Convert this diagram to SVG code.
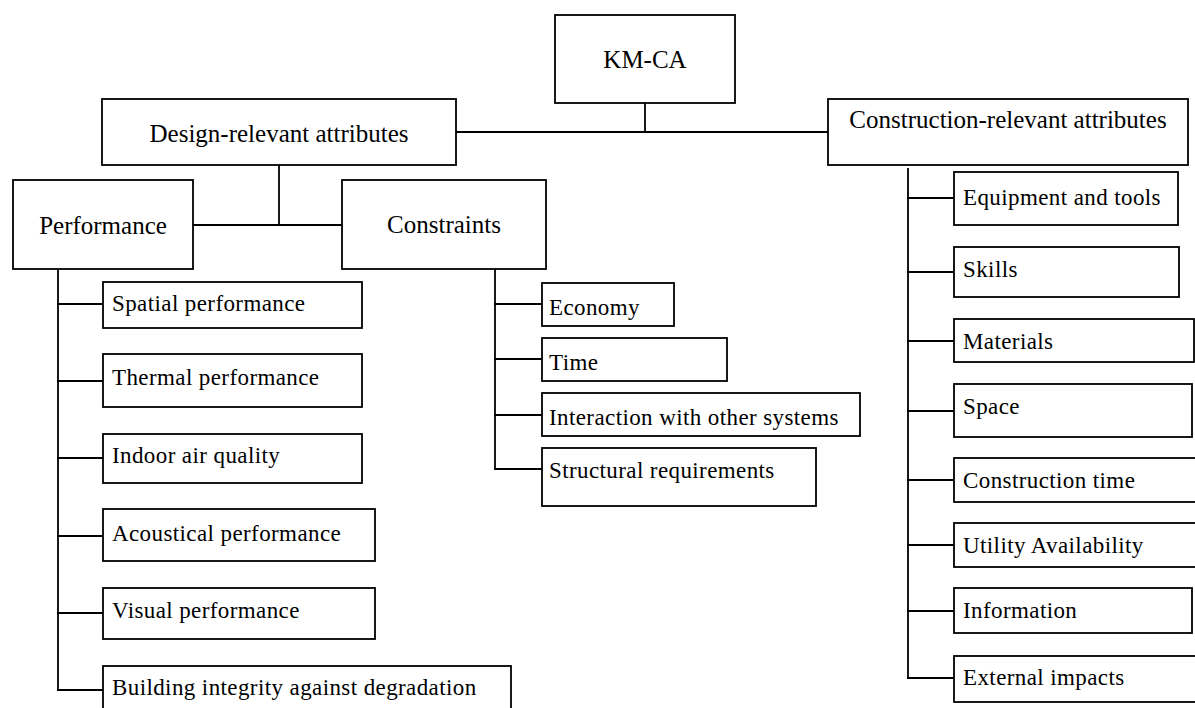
<svg xmlns="http://www.w3.org/2000/svg" width="1195" height="708" viewBox="0 0 1195 708">
<style>
rect{fill:#fff;stroke:#000;stroke-width:1.8}
.c line{stroke:#000;stroke-width:1.8}
text{font-family:"Liberation Serif","Times New Roman",serif;fill:#000}
.b{font-size:25px;text-anchor:middle}
.s{font-size:23px;letter-spacing:0.4px}
</style>
<rect x="0" y="0" width="1195" height="708" style="stroke:none"/>
<g class="c" id="connectors">
<line x1="645" y1="103" x2="645" y2="132"/>
<line x1="456" y1="132" x2="828" y2="132"/>
<line x1="279" y1="165" x2="279" y2="225"/>
<line x1="193" y1="225" x2="342" y2="225"/>
<line x1="58" y1="269" x2="58" y2="690"/>
<line x1="57" y1="304" x2="103" y2="304"/>
<line x1="57" y1="381" x2="103" y2="381"/>
<line x1="57" y1="458" x2="103" y2="458"/>
<line x1="57" y1="536" x2="103" y2="536"/>
<line x1="57" y1="613" x2="103" y2="613"/>
<line x1="57" y1="690" x2="103" y2="690"/>
<line x1="495" y1="269" x2="495" y2="469"/>
<line x1="494" y1="304" x2="542" y2="304"/>
<line x1="494" y1="359" x2="542" y2="359"/>
<line x1="494" y1="415" x2="542" y2="415"/>
<line x1="494" y1="469" x2="542" y2="469"/>
<line x1="908" y1="168" x2="908" y2="678"/>
<line x1="907" y1="198" x2="954" y2="198"/>
<line x1="907" y1="272" x2="954" y2="272"/>
<line x1="907" y1="341" x2="954" y2="341"/>
<line x1="907" y1="411" x2="954" y2="411"/>
<line x1="907" y1="480" x2="954" y2="480"/>
<line x1="907" y1="545" x2="954" y2="545"/>
<line x1="907" y1="611" x2="954" y2="611"/>
<line x1="907" y1="678" x2="954" y2="678"/>
</g>
<g id="kmca"><rect x="555" y="15" width="180" height="88"/><text class="b" x="645" y="68">KM-CA</text></g>
<g id="design"><rect x="102" y="99" width="354" height="66"/><text class="b" x="279" y="142">Design-relevant attributes</text></g>
<g id="construction"><rect x="828" y="99" width="360" height="66"/><text class="b" x="1008" y="128">Construction-relevant attributes</text></g>
<g id="performance"><rect x="13" y="180" width="180" height="89"/><text class="b" x="103" y="234">Performance</text></g>
<g id="constraints"><rect x="342" y="180" width="204" height="89"/><text class="b" x="444" y="233">Constraints</text></g>
<g id="spatial"><rect x="103" y="282" width="259" height="46"/><text class="s" x="112" y="311">Spatial performance</text></g>
<g id="thermal"><rect x="103" y="354" width="259" height="53"/><text class="s" x="112" y="385">Thermal performance</text></g>
<g id="indoor"><rect x="103" y="434" width="259" height="49"/><text class="s" x="112" y="463">Indoor air quality</text></g>
<g id="acoustical"><rect x="103" y="509" width="272" height="52"/><text class="s" x="112" y="541">Acoustical performance</text></g>
<g id="visual"><rect x="103" y="588" width="272" height="51"/><text class="s" x="112" y="618">Visual performance</text></g>
<g id="building"><rect x="103" y="666" width="408" height="50"/><text class="s" x="112" y="695">Building integrity against degradation</text></g>
<g id="economy"><rect x="542" y="283" width="132" height="43"/><text class="s" x="549" y="315">Economy</text></g>
<g id="time"><rect x="542" y="338" width="185" height="43"/><text class="s" x="549" y="370">Time</text></g>
<g id="interaction"><rect x="542" y="393" width="318" height="43"/><text class="s" x="549" y="425">Interaction with other systems</text></g>
<g id="structural"><rect x="542" y="448" width="274" height="58"/><text class="s" x="549" y="478">Structural requirements</text></g>
<g id="equipment"><rect x="954" y="172" width="224" height="53"/><text class="s" x="963" y="205">Equipment and tools</text></g>
<g id="skills"><rect x="954" y="247" width="225" height="50"/><text class="s" x="963" y="277">Skills</text></g>
<g id="materials"><rect x="954" y="319" width="240" height="43"/><text class="s" x="963" y="349">Materials</text></g>
<g id="space"><rect x="954" y="384" width="238" height="53"/><text class="s" x="963" y="414">Space</text></g>
<g id="ctime"><rect x="954" y="458" width="250" height="44"/><text class="s" x="963" y="488">Construction time</text></g>
<g id="utility"><rect x="954" y="523" width="250" height="44"/><text class="s" x="963" y="553">Utility Availability</text></g>
<g id="information"><rect x="954" y="588" width="238" height="45"/><text class="s" x="963" y="618">Information</text></g>
<g id="external"><rect x="954" y="656" width="250" height="46"/><text class="s" x="963" y="685">External impacts</text></g>
</svg>
